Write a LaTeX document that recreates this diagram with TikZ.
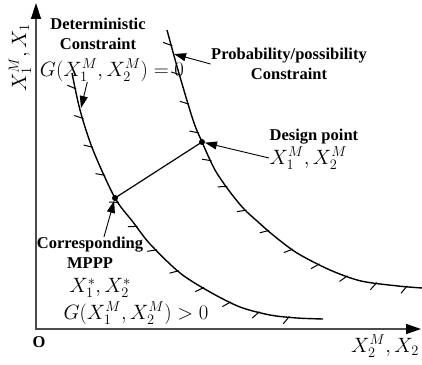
\documentclass[tikz,border=0pt]{standalone}
\usepackage{fontspec}
\setmainfont{Liberation Serif}
\usetikzlibrary{arrows.meta,decorations.markings}

\tikzset{
  lbl/.style={font=\fontsize{16.5}{19.5}\selectfont\bfseries,align=center,inner sep=0.5pt},
  mth/.style={font=\fontsize{20}{22}\selectfont,inner sep=0.5pt},
  axis/.style={line width=1.4pt,gray!60!black,
    {Triangle[length=16pt,width=10pt,color=black]}-{Triangle[length=15pt,width=10pt,color=black]}},
  curve/.style={line width=1.4pt,postaction={decorate},
    decoration={markings,mark=between positions 15pt and -15pt step 30.5pt with
      {\draw[line width=1pt] (1.5pt,1pt) -- (-4pt,-7pt);}}},
  ptr/.style={line width=0.9pt,-{Triangle[length=12pt,width=8pt]}},
}

\begin{document}
\begin{tikzpicture}[x=1pt,y=1pt]
  \useasboundingbox (0,0) rectangle (422,364);
  % --- axes ---
  \coordinate (O) at (36,35);
  \coordinate (ytop) at (36,361);
  \coordinate (xend) at (421,35);
  \draw[axis] (ytop) -- (O) -- (xend);
  \node[lbl] (orig) at (39,22) {O};
  \node[mth,rotate=90] (ylab) at (20,306) {$X_1^M, X_1$};
  \node[mth] (xlab) at (385,18) {$X_2^M, X_2$};

  % --- constraint curves ---
  \draw[curve] plot[smooth] coordinates {(72,291) (80,254) (93,214) (115,166)
    (133,142) (150,120) (180,91) (210,72) (240,57) (270,49) (297,46) (323,45)};
  \draw[curve] plot[smooth] coordinates {(167,334) (178,294) (193,244) (202,222)
    (215,194) (230,172) (244,155) (257,143) (273,129) (297,111) (330,94)
    (361,83) (398,78) (422,76)};

  % --- design point and MPPP ---
  \coordinate (dp) at (202,222);
  \coordinate (mppp) at (115,166);
  \draw[line width=1.2pt] (dp) -- (mppp);
  \fill (dp) circle (3pt);
  \fill (mppp) circle (3pt);

  % --- labels ---
  \node[lbl] (detl) at (98,330) {Deterministic\\Constraint};
  \node[mth] (gzero) at (112,294) {$G(X_1^M, X_2^M)=0$};
  \node[lbl] (probl) at (289,300) {Probability/possibility\\Constraint};
  \node[lbl,anchor=west] (dpl) at (269,227) {Design point};
  \node[mth,anchor=west] (dpm) at (269,206) {$X_1^M, X_2^M$};
  \node[lbl] (corr) at (90,111) {Corresponding\\MPPP};
  \node[mth] (mpppm) at (100,76) {$X_1^*, X_2^*$};
  \node[mth] (gpos) at (136,51) {$G(X_1^M, X_2^M)>0$};

  % --- pointers ---
  \coordinate (detTip) at (81,256);
  \coordinate (probTip) at (174,310);
  \draw[ptr] ([xshift=48pt]gzero.south west) -- (detTip);
  \draw[ptr] (probl.west) -- (probTip);
  \draw[ptr,shorten >=3pt] (dpm.west) -- (dp);
  \draw[ptr,shorten >=3pt] ([xshift=14pt]corr.north) -- (mppp);
\end{tikzpicture}
\end{document}
